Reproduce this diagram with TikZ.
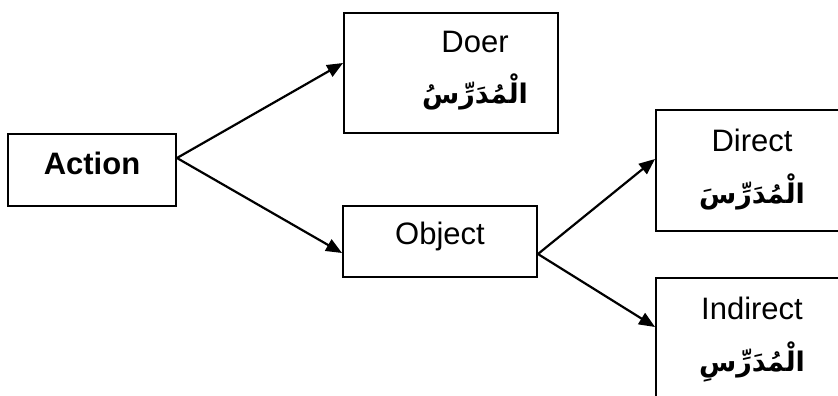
\documentclass[tikz,border=0pt]{standalone}
\usepackage{fontspec}
\setmainfont{Liberation Sans}
\newfontfamily\arabicfont[Script=Arabic]{DejaVu Sans}
\TeXXeTstate=1
\usetikzlibrary{arrows.meta}
\begin{document}
\begin{tikzpicture}[x=1bp,y=-1bp,
  boxnode/.style={draw, line width=1.9bp, inner sep=0pt},
  lab/.style={inner sep=0pt, font=\fontsize{31bp}{36bp}\selectfont},
  arlab/.style={inner sep=0pt, font=\fontsize{27bp}{32bp}\selectfont\arabicfont\bfseries},
  conn/.style={line width=2.2bp, -{Triangle[length=16bp,width=13bp]}}]
\useasboundingbox (0,0) rectangle (838,395);
\clip (0,0) rectangle (838,395);
\node[boxnode, minimum width=168bp, minimum height=72bp] (action) at (92,170) {};
\node[boxnode, minimum width=214bp, minimum height=120bp] (doer) at (451,73) {};
\node[boxnode, minimum width=194bp, minimum height=71bp] (object) at (440,241.5) {};
\node[boxnode, minimum width=214bp, minimum height=121bp] (direct) at (763,170.5) {};
\node[boxnode, minimum width=214bp, minimum height=121bp] (indirect) at (763,338.5) {};
\node[lab, font=\fontsize{31bp}{36bp}\selectfont\bfseries] (actiont) at (92,163) {Action};
\node[lab] (doert) at (475,42) {Doer};
\node[arlab] (doera) at (475,92) {\beginR الْمُدَرِّسُ\endR};
\node[lab] (objectt) at (440,236) {Object};
\node[lab] (directt) at (752,140) {Direct};
\node[arlab] (directa) at (752,192) {\beginR الْمُدَرِّسَ\endR};
\node[lab] (indirectt) at (752,308) {Indirect};
\node[arlab] (indirecta) at (752,362) {\beginR الْمُدَرِّسِ\endR};
\draw[conn] ([yshift=12bp]action.east) -- ([yshift=10bp]doer.west);
\draw[conn] ([yshift=12bp]action.east) -- ([yshift=-11.5bp]object.west);
\draw[conn] ([yshift=-12.5bp]object.east) -- ([yshift=11.5bp]direct.west);
\draw[conn] ([yshift=-12.5bp]object.east) -- ([yshift=11.5bp]indirect.west);
\end{tikzpicture}
\end{document}
